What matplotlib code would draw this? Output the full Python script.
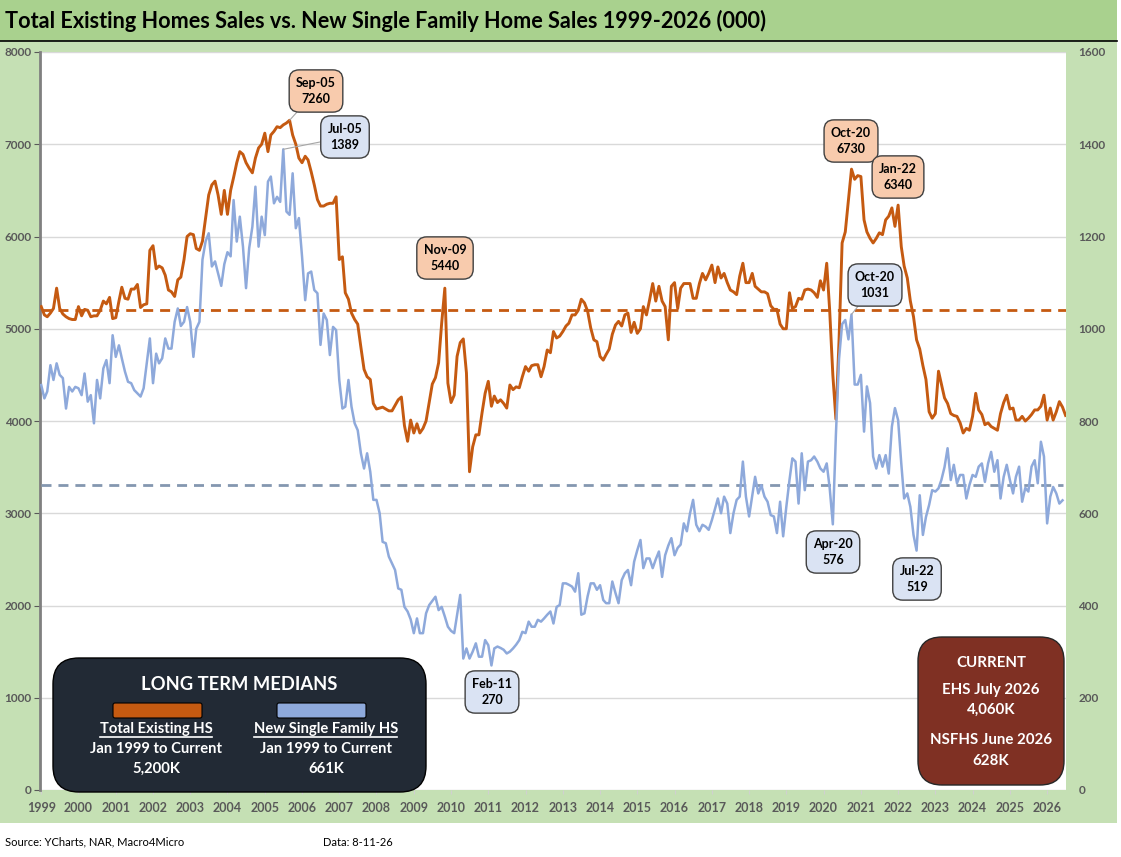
import numpy as np
import pandas as pd
import matplotlib
matplotlib.use('Agg')
import matplotlib.pyplot as plt
from matplotlib.patches import FancyBboxPatch, Rectangle
from matplotlib.lines import Line2D
from matplotlib.transforms import IdentityTransform

plt.rcParams['font.family'] = ['Lato', 'DejaVu Sans']

# Total existing home sales, SAAR (000), Jan 1999 - Jul 2026
ehs = [
    5240, 5150, 5130, 5170, 5220, 5440, 5220, 5160, 5130, 5110, 5100, 5100,  # 1999
    5240, 5140, 5210, 5200, 5130, 5140, 5140, 5200, 5300, 5270, 5340, 5110,  # 2000
    5120, 5300, 5450, 5330, 5320, 5430, 5430, 5480, 5230, 5260, 5270, 5850,  # 2001
    5900, 5650, 5680, 5660, 5580, 5420, 5400, 5350, 5530, 5560, 5750, 6000,  # 2002
    6030, 6020, 5870, 5850, 5950, 6200, 6450, 6560, 6600, 6450, 6240, 6500,  # 2003
    6240, 6500, 6640, 6800, 6920, 6890, 6800, 6740, 6690, 6850, 6960, 7000,  # 2004
    7120, 6920, 7100, 7140, 7190, 7180, 7210, 7230, 7260, 7100, 7000, 6850,  # 2005
    6800, 6870, 6830, 6700, 6560, 6400, 6330, 6330, 6350, 6360, 6360, 6430,  # 2006
    5750, 5780, 5390, 5320, 5170, 5100, 5050, 4800, 4560, 4480, 4450, 4190,  # 2007
    4130, 4140, 4150, 4130, 4110, 4110, 4170, 4230, 4260, 3950, 3780, 4010,  # 2008
    3870, 3970, 3870, 3920, 4000, 4200, 4400, 4470, 4630, 5060, 5440, 4410,  # 2009
    4200, 4280, 4700, 4850, 4890, 4520, 3450, 3720, 3850, 3850, 4090, 4300,  # 2010
    4430, 4160, 4270, 4200, 4230, 4190, 4140, 4390, 4340, 4370, 4360, 4480,  # 2011
    4590, 4540, 4600, 4610, 4610, 4480, 4590, 4770, 4740, 4970, 4900, 4920,  # 2012
    4970, 5030, 5060, 5150, 5150, 5200, 5320, 5280, 5190, 5010, 4880, 4860,  # 2013
    4700, 4660, 4720, 4780, 4940, 5040, 5080, 5030, 5150, 5170, 4960, 5070,  # 2014
    4950, 5000, 5240, 5150, 5310, 5490, 5300, 5460, 5300, 5240, 4880, 5460,  # 2015
    5500, 5220, 5440, 5490, 5490, 5490, 5330, 5330, 5490, 5600, 5530, 5600,  # 2016
    5690, 5500, 5670, 5550, 5600, 5500, 5420, 5400, 5370, 5570, 5710, 5500,  # 2017
    5500, 5600, 5460, 5430, 5400, 5400, 5380, 5250, 5210, 5210, 5050, 5000,  # 2018
    5000, 5390, 5220, 5240, 5330, 5320, 5420, 5430, 5420, 5390, 5340, 5520,  # 2019
    5420, 5710, 5200, 4500, 4020, 4880, 5930, 6050, 6400, 6730, 6620, 6660,  # 2020
    6650, 6180, 6050, 5980, 5930, 5980, 6040, 6020, 6180, 6220, 6310, 6110,  # 2021
    6340, 5890, 5680, 5550, 5300, 5130, 4880, 4780, 4600, 4450, 4100, 4030,  # 2022
    4080, 4540, 4400, 4250, 4190, 4080, 4060, 4050, 3980, 3870, 3920, 3900,  # 2023
    4050, 4300, 4120, 4070, 3960, 3980, 3940, 3920, 3900, 4080, 4200, 4280,  # 2024
    4130, 4140, 4010, 4010, 4050, 4000, 4030, 4070, 4120, 4120, 4160, 4280,  # 2025
    4010, 4140, 4010, 4100, 4210, 4150, 4060,                                # 2026
]

# New single family home sales, SAAR (000), Jan 1999 - Jun 2026
nsfhs = [
    878, 849, 864, 921, 889, 925, 900, 893, 827, 874, 864, 874,  # 1999
    871, 856, 903, 842, 856, 795, 889, 849, 914, 932, 882, 986,  # 2000
    939, 964, 936, 907, 885, 882, 867, 860, 853, 871, 925, 979,  # 2001
    882, 946, 925, 936, 979, 957, 957, 1015, 1044, 1006, 1015, 1047,  # 2002
    1015, 939, 1000, 1015, 1150, 1190, 1207, 1135, 1146, 1120, 1093, 1140,  # 2003
    1166, 1157, 1279, 1189, 1243, 1178, 1088, 1175, 1221, 1308, 1178, 1243,  # 2004
    1203, 1319, 1330, 1272, 1286, 1275, 1389, 1254, 1247, 1337, 1218, 1240,  # 2005
    1157, 1062, 1120, 1124, 1084, 1077, 965, 1033, 1019, 943, 1004, 997,  # 2006
    889, 827, 831, 889, 831, 795, 780, 730, 697, 730, 690, 629,  # 2007
    629, 600, 538, 535, 506, 491, 477, 437, 434, 397, 387, 370,  # 2008
    340, 372, 340, 340, 383, 401, 410, 419, 390, 397, 376, 354,  # 2009
    345, 340, 380, 423, 285, 307, 285, 300, 318, 289, 289, 325,  # 2010
    314, 270, 307, 311, 308, 304, 296, 300, 307, 315, 325, 343,  # 2011
    340, 365, 354, 354, 369, 365, 372, 380, 387, 361, 397, 401,  # 2012
    448, 448, 445, 441, 430, 470, 380, 383, 420, 448, 448, 434,  # 2013
    444, 412, 405, 405, 452, 427, 405, 455, 470, 477, 444, 495,  # 2014
    520, 542, 481, 502, 502, 481, 500, 517, 462, 509, 530, 546,  # 2015
    509, 525, 532, 578, 561, 600, 629, 575, 561, 575, 571, 564,  # 2016
    585, 610, 632, 600, 636, 621, 557, 600, 629, 636, 712, 636,  # 2017
    593, 639, 679, 643, 661, 636, 625, 596, 593, 557, 625, 550,  # 2018
    614, 672, 719, 712, 621, 730, 650, 712, 715, 723, 712, 697,  # 2019
    690, 708, 655, 576, 770, 935, 1010, 1019, 977, 1031, 879, 879,  # 2020
    900, 777, 875, 839, 723, 697, 726, 701, 726, 686, 788, 828,  # 2021
    802, 708, 632, 643, 614, 553, 519, 639, 553, 592, 618, 650,  # 2022
    647, 654, 672, 700, 741, 672, 705, 665, 683, 683, 632, 661,  # 2023
    683, 679, 701, 708, 668, 708, 733, 690, 715, 632, 679, 705,  # 2024
    672, 643, 679, 701, 625, 655, 647, 701, 715, 665, 755, 723,  # 2025
    578, 636, 657, 643, 621, 628,                                # 2026
]

ehs_median = 5200
nsfhs_median = 661

ehs_callouts = [('Sep-05', '2005-09-01', 7260), ('Nov-09', '2009-11-01', 5440),
                ('Oct-20', '2020-10-01', 6730), ('Jan-22', '2022-01-01', 6340)]
nsfhs_callouts = [('Jul-05', '2005-07-01', 1389), ('Feb-11', '2011-02-01', 270),
                  ('Apr-20', '2020-04-01', 576), ('Oct-20', '2020-10-01', 1031),
                  ('Jul-22', '2022-07-01', 519)]

years = list(range(1999, 2027))

ehs_dates = pd.date_range('1999-01-01', periods=len(ehs), freq='MS')
nsfhs_dates = pd.date_range('1999-01-01', periods=len(nsfhs), freq='MS')

W, H = 1121, 857
ORANGE = '#C55A11'
BLUE = '#8EA9DB'
GRAYTXT = '#595959'

fig = plt.figure(figsize=(W / 100, H / 100), dpi=100, facecolor='white')

def fx(px):
    return px / W

def fy(py):
    return 1 - py / H

# backgrounds (pixel coords, y from bottom)
fig.add_artist(Rectangle((0, H - 823), 1117, 823 - 41, transform=IdentityTransform(),
                         fc='#C5E0B4', ec='none', zorder=-10))
fig.add_artist(Rectangle((0, H - 41), 1117, 41, transform=IdentityTransform(),
                         fc='#A9D18E', ec='none', zorder=-9))
fig.add_artist(Line2D([0, 1117], [H - 41, H - 41], transform=IdentityTransform(),
                      color='black', lw=1.2, zorder=-8))

fig.text(fx(5), fy(21), 'Total Existing Homes Sales vs. New Single Family Home Sales 1999-2026 (000)',
         fontsize=15.6, fontweight='bold', va='center', ha='left')

ax = fig.add_axes([fx(40), (H - 790) / H, 1026 / W, 738 / H])
ax.set_facecolor('white')
ax.plot(ehs_dates, ehs, color=ORANGE, lw=2.1, zorder=3)
ax.hlines(ehs_median, ehs_dates[0], ehs_dates[-1], color=ORANGE, lw=2.0,
          linestyles=(0, (3.6, 2.5)), zorder=2)
ax.set_ylim(0, 8000)
ax.set_yticks(range(0, 8001, 1000))
ax.set_xlim(pd.Timestamp('1998-12-20'), pd.Timestamp('2026-07-05'))
ax.set_xticks([pd.Timestamp(f'{y}-01-01') for y in years])
ax.set_xticklabels([str(y) for y in years])
ax.yaxis.grid(True, color='#D9D9D9', lw=1)
ax.set_axisbelow(True)
for s in ['top', 'right', 'bottom']:
    ax.spines[s].set_visible(False)
ax.spines['left'].set_color('#808080')
ax.spines['left'].set_linewidth(2)
ax.tick_params(axis='y', colors=GRAYTXT, labelsize=8.5, length=4, pad=2)
ax.tick_params(axis='x', colors='#D0D0D0', labelcolor=GRAYTXT, labelsize=9, length=3, pad=6)
for lbl in ax.get_xticklabels() + ax.get_yticklabels():
    lbl.set_fontweight('bold')

ax2 = ax.twinx()
ax2.plot(nsfhs_dates, nsfhs, color=BLUE, lw=1.8, zorder=3)
ax2.hlines(nsfhs_median, nsfhs_dates[0], nsfhs_dates[-1], color='#8497B0', lw=2.0,
           linestyles=(0, (3.6, 2.5)), zorder=2)
ax2.set_ylim(0, 1600)
ax2.set_yticks(range(0, 1601, 200))
for s in ax2.spines.values():
    s.set_visible(False)
ax2.tick_params(axis='y', colors=GRAYTXT, labelsize=8.5, length=0, pad=9)
for lbl in ax2.get_yticklabels():
    lbl.set_fontweight('bold')

# callout boxes (centre positions in pixels)
ehs_box_px = [(316, 91), (445, 258), (851, 141), (898, 177)]
nsfhs_box_px = [(345, 137), (492, 692), (833, 552), (875, 285), (917, 579)]
ehs_leader = [True, False, False, False]
nsfhs_leader = [True, False, False, True, False]

def callout(axis, item, pos, fc, leader):
    lab, d, v = item
    props = dict(arrowstyle='-', color='#A6A6A6', lw=0.8, shrinkA=0, shrinkB=0) if leader else None
    axis.annotate(f'{lab}\n{v}', xy=(pd.Timestamp(d), v), xycoords='data',
                  xytext=(pos[0], H - pos[1]), textcoords='figure pixels',
                  ha='center', va='center', fontsize=9, fontweight='bold',
                  linespacing=1.45, color='black', zorder=6,
                  bbox=dict(boxstyle='round,pad=0.55,rounding_size=0.8', fc=fc, ec='#404040', lw=1),
                  arrowprops=props)

for item, pos, ld in zip(ehs_callouts, ehs_box_px, ehs_leader):
    callout(ax, item, pos, '#F8CBAD', ld)
for item, pos, ld in zip(nsfhs_callouts, nsfhs_box_px, nsfhs_leader):
    callout(ax2, item, pos, '#DAE3F3', ld)

# long term medians box
fig.add_artist(FancyBboxPatch((53, H - 792), 373, 134, boxstyle='round,pad=0,rounding_size=26',
                              transform=IdentityTransform(), fc='#222A35', ec='black', lw=1, zorder=5))
fig.add_artist(FancyBboxPatch((113, H - 718), 89, 15, boxstyle='round,pad=0,rounding_size=2',
                              transform=IdentityTransform(), fc=ORANGE, ec='black', lw=0.8, zorder=6))
fig.add_artist(FancyBboxPatch((277, H - 718), 89, 15, boxstyle='round,pad=0,rounding_size=2',
                              transform=IdentityTransform(), fc=BLUE, ec='black', lw=0.8, zorder=6))
fig.text(fx(239), fy(684), 'LONG TERM MEDIANS', color='white', fontsize=13.2, fontweight='bold',
         ha='center', va='center', zorder=7)
cols = [(156, 'Total Existing HS', f'{ehs_median:,}K', 100, 212),
        (326, 'New Single Family HS', f'{nsfhs_median:,}K', 254, 397)]
for cx, name, val, u0, u1 in cols:
    fig.text(fx(cx), fy(729), name, color='white', fontsize=10.6, fontweight='bold',
             ha='center', va='center', zorder=7)
    fig.add_artist(Line2D([u0, u1], [H - 737, H - 737], transform=IdentityTransform(),
                          color='white', lw=1.2, zorder=7))
    fig.text(fx(cx), fy(749), 'Jan 1999 to Current', color='white', fontsize=10.6, fontweight='bold',
             ha='center', va='center', zorder=7)
    fig.text(fx(cx), fy(769), val, color='white', fontsize=10.6, fontweight='bold',
             ha='center', va='center', zorder=7)

# current box
fig.add_artist(FancyBboxPatch((918, H - 785), 146, 148, boxstyle='round,pad=0,rounding_size=24',
                              transform=IdentityTransform(), fc='#7F3023', ec='#262626', lw=1, zorder=5))
cur_lines = [('CURRENT', 663), ('EHS July 2026', 690), (f'{ehs[-1]:,}K', 710),
             ('NSFHS June 2026', 740), (f'{nsfhs[-1]:,}K', 761)]
for txt, py in cur_lines:
    fig.text(fx(991), fy(py), txt, color='white', fontsize=10.8, fontweight='bold',
             ha='center', va='center', zorder=7)

fig.text(fx(5), fy(842), 'Source: YCharts, NAR, Macro4Micro', fontsize=8, va='center')
fig.text(fx(323), fy(842), 'Data: 8-11-26', fontsize=8, va='center')

fig.savefig('out.png', dpi=100, facecolor='white')
